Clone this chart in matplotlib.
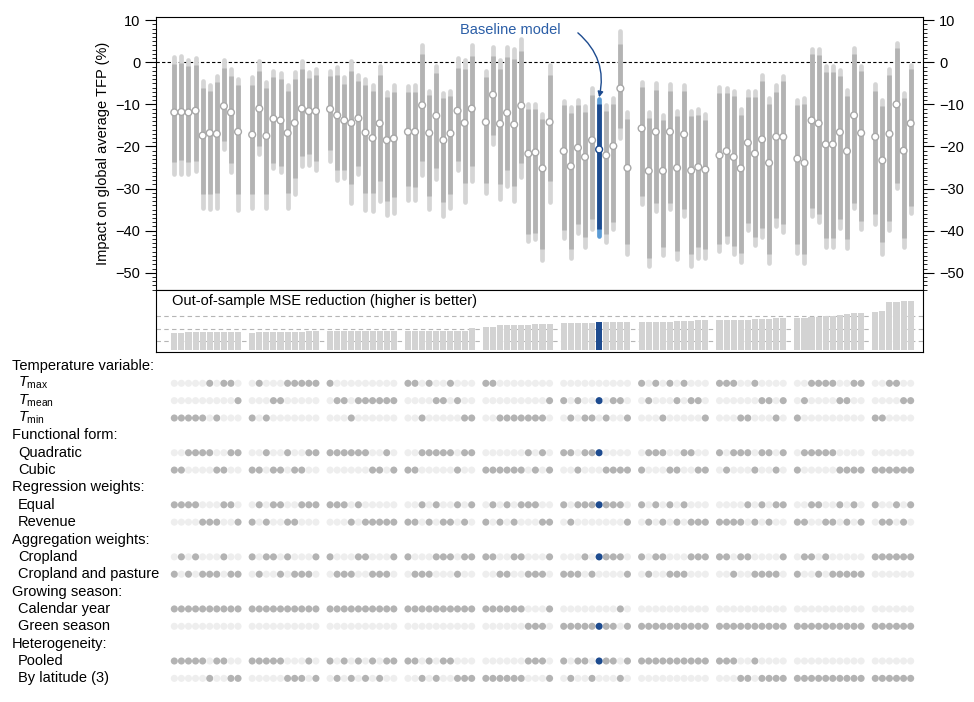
import numpy as np
import matplotlib.pyplot as plt
import matplotlib.transforms as mtransforms

plt.rcParams['font.family'] = ['Liberation Sans', 'DejaVu Sans']
plt.rcParams['mathtext.fontset'] = 'custom'
plt.rcParams['mathtext.rm'] = 'Liberation Sans'
plt.rcParams['mathtext.it'] = 'Liberation Sans:italic'

# ---- data -------------------------------------------------------------
group_sizes = [10, 10, 10, 10, 10, 10, 10, 10, 10, 6]
baseline = 55

# model specification per group (X = Tmax, M = Tmean, N = Tmin)
temp_var = ["NNNNNXNXXM", "NXNMMXXXXX", "XMMNMMMMMM", "XXNXMMXMNN", "XXNNNNNNNM",
            "MNMNNMNMMN", "XMXNXMXMMN", "XXXNNXMMNM", "NMXXXXMMXX", "NNXXMM"]
quadratic = ["0011110011", "0010010011", "1111110010", "0011111011", "0000001010",
             "1101110000", "0111001100", "1011101101", "0111110000", "000000"]
equal_w = ["1111000110", "0101100111", "1110100000", "0010100101", "0101011100",
           "1011111110", "1010101000", "0000101011", "0011001010", "100101"]
cropland = ["0101000100", "1011010001", "1000110001", "1000111011", "1100110001",
            "0001011110", "1011000111", "1101100001", "0110100000", "111111"]
calendar = ["1111111111", "1111111111", "1111111111", "1111111111", "1111110001",
            "0000000010", "0000000000", "0000000000", "0000000000", "000000"]
pooled = ["1111101100", "1111100010", "1010101011", "1101011000", "0000001110",
          "1011011101", "1111111111", "1110010000", "0000000000", "000000"]

outer_hi = [1.3, 1.5, 0.6, 1.1, -4.4, -5.3, -3.2, 0.6, -1.6, -3.9,
            -3.5, 0.2, -4.7, -2.0, -2.5, -5.5, -2.3, 0.4, -2.4, -1.5,
            -2.0, -1.1, -3.4, 0.4, -3.1, -4.0, -5.3, -0.9, -7.1, -5.5,
            -5.7, -5.5, 4.2, -6.7, -0.8, -7.2, -6.7, 1.0, 0.5, 4.2,
            -2.0, 3.6, 0.6, 3.6, 3.2, 5.6, -10.0, -9.9, -12.2, -0.6,
            -9.1, -10.7, -8.9, -10.4, -6.2, -8.7, -10.2, -8.5, 7.5, -11.9,
            -4.7, -11.8, -4.9, -12.4, -5.1, -11.5, -5.3, -11.5, -11.0, -12.3,
            -5.9, -6.1, -6.7, -11.2, -6.7, -6.7, -3.1, -8.5, -5.5, -3.2,
            -8.9, -8.5, 3.1, 3.2, -0.9, -0.9, -1.8, -6.6, 3.4, -0.8,
            -5.1, -8.9, -1.6, 4.6, -7.3, -0.7]
inner_hi = [-0.3, -0.2, -0.9, -0.7, -6.1, -6.7, -4.7, -1.3, -3.2, -5.5,
            -5.3, -2.0, -6.2, -3.6, -3.9, -6.9, -3.9, -1.5, -3.7, -2.9,
            -3.3, -2.9, -5.1, -2.0, -4.5, -5.3, -6.9, -2.9, -8.3, -7.0,
            -7.0, -7.1, 2.0, -7.7, -2.5, -8.5, -7.9, -1.3, -1.7, 1.6,
            -3.6, 1.4, -1.5, 1.2, 0.8, 2.8, -11.2, -11.0, -13.4, -2.9,
            -10.2, -12.0, -10.2, -11.8, -7.7, -9.9, -11.5, -9.9, 4.3, -13.4,
            -5.9, -13.2, -6.5, -13.8, -6.7, -12.8, -6.9, -12.8, -12.4, -13.6,
            -7.3, -7.4, -8.1, -12.6, -8.2, -8.2, -4.5, -9.9, -7.0, -4.5,
            -10.2, -9.9, 2.0, 1.8, -2.3, -2.3, -3.3, -8.1, 2.0, -2.1,
            -6.7, -10.4, -2.9, 3.4, -8.5, -1.7]
median = [-11.9, -11.8, -11.9, -11.5, -17.4, -16.8, -17.0, -10.4, -11.9, -16.5,
          -17.2, -11.0, -17.5, -13.4, -13.8, -16.8, -14.4, -11.0, -11.6, -11.6,
          -11.1, -12.6, -13.8, -14.4, -13.3, -16.7, -18.0, -14.5, -18.5, -18.1,
          -16.5, -16.5, -10.2, -16.8, -12.7, -18.5, -16.9, -11.5, -14.4, -11.0,
          -14.2, -7.7, -14.6, -12.0, -14.8, -10.3, -21.7, -21.4, -25.2, -14.2,
          -21.1, -24.7, -20.3, -22.5, -18.5, -20.7, -22.1, -19.9, -6.2, -25.1,
          -15.7, -25.8, -16.5, -25.8, -16.5, -25.1, -17.1, -25.7, -24.9, -25.5,
          -22.1, -21.1, -22.5, -25.2, -19.1, -21.7, -18.3, -23.9, -17.7, -17.7,
          -22.9, -23.9, -13.8, -14.5, -19.5, -19.5, -16.6, -21.1, -12.6, -16.8,
          -17.7, -23.3, -17.0, -10.0, -21.0, -14.5]
inner_lo = [-23.7, -23.2, -23.7, -23.5, -31.2, -31.2, -31.0, -18.7, -23.9, -31.4,
            -31.4, -19.9, -31.4, -23.9, -24.7, -31.0, -27.4, -22.3, -21.7, -23.5,
            -20.9, -25.7, -25.5, -28.9, -24.7, -31.0, -31.0, -28.1, -33.0, -32.0,
            -29.4, -29.6, -23.5, -31.8, -25.1, -33.2, -31.4, -23.5, -28.6, -24.7,
            -28.6, -17.2, -29.0, -25.5, -29.4, -24.0, -40.9, -40.5, -44.4, -28.2,
            -39.9, -44.4, -38.5, -41.5, -37.3, -39.6, -40.9, -37.9, -15.6, -43.2,
            -31.8, -46.4, -33.4, -44.0, -33.4, -44.8, -34.9, -45.6, -44.0, -44.4,
            -43.2, -41.3, -43.6, -45.2, -38.1, -41.5, -39.3, -45.5, -36.9, -38.5,
            -43.1, -45.6, -34.5, -36.1, -41.8, -41.8, -37.3, -42.1, -33.4, -37.7,
            -36.1, -42.8, -37.7, -28.6, -41.7, -34.1]
outer_lo = [-26.5, -26.5, -26.6, -25.8, -34.5, -34.8, -34.5, -20.7, -26.0, -35.1,
            -34.7, -21.7, -34.7, -25.2, -26.0, -34.7, -31.4, -24.7, -24.3, -25.5,
            -23.5, -28.0, -27.6, -33.4, -26.6, -35.1, -35.3, -33.0, -36.3, -35.7,
            -32.6, -32.8, -26.8, -34.8, -27.8, -36.5, -34.7, -25.6, -33.1, -28.2,
            -31.1, -19.4, -32.4, -29.4, -33.0, -27.2, -42.5, -42.1, -47.0, -33.1,
            -41.7, -46.6, -40.5, -43.9, -39.5, -41.2, -42.8, -39.7, -17.9, -45.6,
            -33.6, -48.4, -35.3, -45.8, -34.9, -46.8, -36.5, -48.4, -46.6, -46.6,
            -44.8, -42.8, -45.5, -47.4, -39.9, -43.4, -41.5, -47.6, -38.9, -40.2,
            -45.2, -47.6, -36.4, -37.9, -43.8, -43.8, -39.3, -44.2, -34.7, -39.7,
            -38.3, -45.5, -39.8, -29.8, -44.0, -35.7]

mse = [1.63, 1.63, 1.74, 1.74, 1.74, 1.74, 1.74, 1.74, 1.74, 1.74,
       1.68, 1.76, 1.76, 1.76, 1.76, 1.76, 1.76, 1.76, 1.79, 1.79,
       1.79, 1.79, 1.79, 1.79, 1.84, 1.84, 1.84, 1.84, 1.84, 1.84,
       1.84, 1.84, 1.84, 1.84, 1.84, 1.84, 1.84, 1.84, 1.84, 2.05,
       2.16, 2.16, 2.26, 2.26, 2.26, 2.26, 2.26, 2.37, 2.37, 2.37,
       2.45, 2.45, 2.45, 2.45, 2.45, 2.53, 2.53, 2.53, 2.53, 2.53,
       2.53, 2.53, 2.53, 2.53, 2.53, 2.61, 2.61, 2.61, 2.68, 2.68,
       2.68, 2.68, 2.68, 2.68, 2.68, 2.76, 2.76, 2.76, 2.84, 2.84,
       2.84, 2.84, 2.95, 2.95, 3.00, 3.00, 3.08, 3.16, 3.24, 3.24,
       3.32, 3.39, 4.10, 4.10, 4.18, 4.18]

# ---- styling ----------------------------------------------------------
light = '#d5d5d5'
dark = '#b3b3b3'
blue = '#1d4b8f'
lightblue = '#5b9bd5'
dot_off = '#eeeeee'
fs = 10.5

xpos = np.concatenate([g * 11 + np.arange(n) for g, n in enumerate(group_sizes)])
n = len(xpos)
xlim = (-2.54, 105.75)

outer_cols = [lightblue if i == baseline else light for i in range(n)]
inner_cols = [blue if i == baseline else dark for i in range(n)]
med_edge = [blue if i == baseline else '#a8a8a8' for i in range(n)]

fig = plt.figure(figsize=(9.74, 7.02), dpi=100)

# ---- top panel: TFP impact --------------------------------------------
ax = fig.add_axes([0.1605, 0.5869, 0.7872, 0.3893])
ax.axhline(0, color='black', lw=0.8, ls=(0, (3, 2)), zorder=1)
ax.vlines(xpos, outer_lo, outer_hi, colors=outer_cols, lw=3.4, capstyle='round', zorder=2)
ax.vlines(xpos, inner_lo, inner_hi, colors=inner_cols, lw=3.4, capstyle='butt', zorder=3)
ax.scatter(xpos, median, s=24, facecolor='white', edgecolor=med_edge, lw=1.0, zorder=4)
ax.set_xlim(*xlim)
ax.set_ylim(-54.1, 10.84)
ax.set_xticks([])
ax.set_yticks([10, 0, -10, -20, -30, -40, -50])
ax.set_yticks(np.arange(-54, 11), minor=True)
ax.tick_params(axis='y', which='both', left=True, right=True, labelright=True,
               labelsize=fs, width=0.8)
ax.tick_params(axis='y', which='major', length=8)
ax.tick_params(axis='y', which='minor', length=3, width=0.6)
ax.set_ylabel('Impact on global average TFP (%)', fontsize=fs, labelpad=4)

ax.text(47.4, 7.6, 'Baseline model', ha='center', va='center', fontsize=fs, color='#2b5ea7')
ax.annotate('', xy=(xpos[baseline], outer_hi[baseline] + 0.4), xytext=(57.0, 7.0),
            arrowprops=dict(arrowstyle='-|>', color=blue, lw=1.0, mutation_scale=8,
                            shrinkA=0, shrinkB=0, connectionstyle='arc3,rad=-0.3'))

# ---- middle panel: MSE reduction --------------------------------------
ax2 = fig.add_axes([0.1605, 0.4986, 0.7872, 0.0883])
for lev in [1, 2, 3]:
    ax2.axhline(lev, color='#b5b5b5', lw=0.8, ls=(0, (4, 3)), zorder=0)
mse_cols = [blue if i == baseline else '#d3d3d3' for i in range(n)]
ax2.bar(xpos, np.array(mse) - 0.31, bottom=0.31, width=0.86, color=mse_cols, zorder=2)
ax2.set_xlim(*xlim)
ax2.set_ylim(0.155, 5.05)
ax2.set_xticks([])
ax2.set_yticks([])
ax2.text(0.0205, 0.93, 'Out-of-sample MSE reduction (higher is better)', transform=ax2.transAxes,
         ha='left', va='top', fontsize=fs)

# ---- bottom panel: model specification ---------------------------------
ax3 = fig.add_axes([0.1605, 0.0171, 0.7872, 0.473])
ax3.set_xlim(*xlim)
ax3.set_ylim(18.67, -0.46)
ax3.axis('off')


def expand(strings):
    return np.array([c for s in strings for c in s])


temp = expand(temp_var)
rows = [
    (1, temp == 'X'), (2, temp == 'M'), (3, temp == 'N'),
    (5, expand(quadratic) == '1'), (6, expand(quadratic) == '0'),
    (8, expand(equal_w) == '1'), (9, expand(equal_w) == '0'),
    (11, expand(cropland) == '1'), (12, expand(cropland) == '0'),
    (14, expand(calendar) == '1'), (15, expand(calendar) == '0'),
    (17, expand(pooled) == '1'), (18, expand(pooled) == '0'),
]
for r, sel in rows:
    cols = []
    for i in range(n):
        if sel[i]:
            cols.append(blue if i == baseline else dark)
        else:
            cols.append(dot_off)
    ax3.scatter(xpos, np.full(n, r), s=26, c=cols, lw=0, clip_on=False)

labels = [
    (0, 'Temperature variable:', 0), (1, r'$T_{\rm max}$', 1), (2, r'$T_{\rm mean}$', 1),
    (3, r'$T_{\rm min}$', 1), (4, 'Functional form:', 0), (5, 'Quadratic', 1), (6, 'Cubic', 1),
    (7, 'Regression weights:', 0), (8, 'Equal', 1), (9, 'Revenue', 1),
    (10, 'Aggregation weights:', 0), (11, 'Cropland', 1), (12, 'Cropland and pasture', 1),
    (13, 'Growing season:', 0), (14, 'Calendar year', 1), (15, 'Green season', 1),
    (16, 'Heterogeneity:', 0), (17, 'Pooled', 1), (18, 'By latitude (3)', 1),
]
trans = mtransforms.blended_transform_factory(fig.transFigure, ax3.transData)
for r, txt, indent in labels:
    ax3.text(0.0123 if indent == 0 else 0.0185, r, txt, transform=trans,
             ha='left', va='center', fontsize=fs)

fig.savefig('out.png', dpi=100)
